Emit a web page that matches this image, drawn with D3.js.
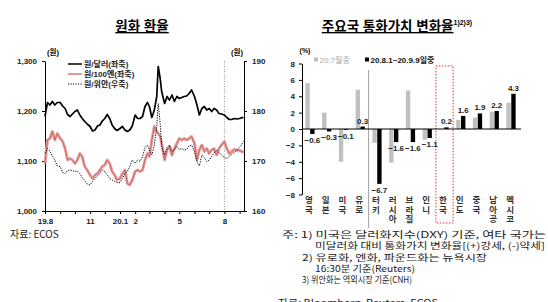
<!DOCTYPE html>
<html><head><meta charset="utf-8">
<script src="https://cdn.jsdelivr.net/npm/d3@7"></script>
<style>
body{margin:0;background:#fff}
svg{display:block}
text{font-family:"Liberation Sans","Noto Sans CJK KR",sans-serif}
.note{font-family:"Noto Sans CJK KR",sans-serif}
</style></head><body>
<script>
// ---- left chart data: won exchange rates ----
let dates = [
  '2019-08-01','2019-08-06','2019-08-11','2019-08-16','2019-08-21','2019-08-26',
  '2019-09-01','2019-09-06','2019-09-11','2019-09-16','2019-09-21','2019-09-26',
  '2019-10-01','2019-10-06','2019-10-11','2019-10-16','2019-10-21','2019-10-26',
  '2019-11-01','2019-11-06','2019-11-11','2019-11-16','2019-11-21','2019-11-26',
  '2019-12-01','2019-12-06','2019-12-11','2019-12-16','2019-12-21','2019-12-26',
  '2020-01-01','2020-01-06','2020-01-11','2020-01-16','2020-01-21','2020-01-26',
  '2020-02-01','2020-02-06','2020-02-11','2020-02-16','2020-02-21','2020-02-26',
  '2020-03-01','2020-03-06','2020-03-11','2020-03-16','2020-03-19','2020-03-23','2020-03-26',
  '2020-04-01','2020-04-06','2020-04-11','2020-04-16','2020-04-21','2020-04-26',
  '2020-05-01','2020-05-06','2020-05-11','2020-05-16','2020-05-21','2020-05-26',
  '2020-06-01','2020-06-06','2020-06-11','2020-06-16','2020-06-21','2020-06-26',
  '2020-07-01','2020-07-06','2020-07-11','2020-07-16','2020-07-21','2020-07-26',
  '2020-08-01','2020-08-06','2020-08-11','2020-08-16','2020-08-21','2020-08-26',
  '2020-09-01','2020-09-06','2020-09-09'
]
let usd = [
  1189,1217,1212,1219,1212,1217, 1217,1210,1205,1193,1189,1194,
  1199,1202,1192,1185,1179,1174, 1169,1160,1162,1170,1172,1180,
  1185,1193,1185,1172,1165,1161, 1165,1169,1162,1159,1162,1170,
  1192,1185,1185,1189,1209,1217, 1209,1187,1202,1229,1289,1265,1239,
  1215,1229,1222,1232,1219,1229, 1225,1227,1229,1230,1235,1242,
  1229,1212,1192,1205,1209,1202, 1205,1199,1205,1202,1195,1194,
  1192,1187,1183,1183,1185,1184, 1185,1187,1186
]
let jpy = [
  1095,1142,1145,1159,1142,1155, 1145,1139,1125,1102,1105,1102,
  1095,1102,1115,1109,1089,1082, 1072,1065,1072,1075,1082,1089,
  1092,1102,1095,1079,1072,1062, 1065,1075,1082,1055,1052,1062,
  1079,1082,1079,1082,1102,1115, 1109,1142,1169,1159,1155,1149,1135,
  1102,1122,1129,1112,1125,1135, 1145,1142,1145,1142,1145,1149,
  1135,1102,1122,1132,1119,1125, 1115,1122,1125,1112,1125,1132,
  1139,1125,1115,1119,1123,1122, 1121,1119,1117
]
let cny = [
  171.5,172.5,172.0,171.0,170.2,169.0, 168.9,167.7,167.5,168.1,168.2,168.1,
  167.9,168.0,167.5,166.7,166.1,165.4, 165.2,165.9,166.5,167.0,167.5,168.2,
  167.9,167.2,166.5,166.2,165.9,165.7, 165.7,166.5,167.5,167.9,168.9,170.2,
  169.5,170.2,169.9,170.9,172.7,173.2, 172.2,171.2,173.2,176.9,181.5,177.5,172.9,
  171.2,172.7,173.2,171.9,172.3,172.9, 172.3,172.5,172.2,172.3,173.0,173.2,
  171.9,169.9,169.0,171.2,170.7,169.9, 170.2,170.9,171.7,172.1,171.7,171.2,
  170.7,170.5,170.9,171.4,171.7,172.1, 172.7,173.4,173.9
]
let leftTicks = [1000, 1100, 1200, 1300]
let rightTicks = [160, 170, 180, 190]
let monthLabels = {'2019-08': '19.8', '2019-11': '11', '2020-01': '20.1', '2020-02': '2', '2020-05': '5', '2020-08': '8'}
let seriesNames = ['원/달러(좌축)', '원/100엔(좌축)', '원/위안(우축)']

// ---- right chart data: currency value change rates ----
let countries = ['영국','일본','미국','유로','터키','러시아','브라질','인니','한국','인도','중국','남아공','멕시코']
let julChange = [5.6, 2.0, -4.0, 4.8, -1.7, -4.1, 4.7, -1.3, 0.0, 1.1, 1.4, 2.1, 3.2]
let augChange = [-0.6, -0.3, -0.1, 0.3, -6.7, -1.6, -1.6, -1.1, 0.2, 1.6, 1.9, 2.2, 4.3]
let barTicks = [-8, -6, -4, -2, 0, 2, 4, 6, 8]
let barSeriesNames = ['20.7월중', '20.8.1~20.9.9일중']

let notes = [
  {t: '주: 1) 미국은 달러화지수(DXY) 기준, 여타 국가는', x: 282, y: 238, w: 264},
  {t: '미달러화 대비 통화가치 변화율[(+)강세, (-)약세]', x: 315, y: 248.5, w: 230},
  {t: '2) 유로화, 엔화, 파운드화는 뉴욕시장', x: 302, y: 261, w: 185},
  {t: '16:30분 기준(Reuters)', x: 315, y: 271.5, w: 100},
  {t: '3) 위안화는 역외시장 기준(CNH)', x: 302, y: 282.5, w: 110},
  {t: '자료: Bloomberg, Reuters, ECOS', x: 278, y: 306, w: 160}
]

let width = 548
let height = 302
let parse = d3.timeParse('%Y-%m-%d')
let dateObjs = dates.map(parse)

let svg = d3.select('body').append('svg')
  .attr('width', width)
  .attr('height', height)

// ================= left chart =================
let xL = d3.scaleTime().domain([parse('2019-08-01'), parse('2020-09-10')]).range([45, 244])
let yL = d3.scaleLinear().domain([1000, 1300]).range([211, 61])
let yR = d3.scaleLinear().domain([160, 190]).range([211, 61])

svg.append('text')
  .attr('x', 142).attr('y', 31)
  .attr('text-anchor', 'middle')
  .attr('font-size', 13.5).attr('font-weight', 'bold')
  .attr('text-decoration', 'underline')
  .text('원화 환율')

// vertical marker at 20.8
svg.append('line')
  .attr('x1', xL(parse('2020-08-01'))).attr('x2', xL(parse('2020-08-01')))
  .attr('y1', 61).attr('y2', 211)
  .attr('stroke', '#777').attr('stroke-width', 0.8)
  .attr('stroke-dasharray', '1,1.5')

let gL = svg.append('g').attr('transform', 'translate(45,0)')
  .call(d3.axisLeft(yL).tickValues(leftTicks).tickSize(3).tickSizeOuter(0).tickPadding(5).tickFormat(d3.format(',')))
let gR = svg.append('g').attr('transform', 'translate(244,0)')
  .call(d3.axisRight(yR).tickValues(rightTicks).tickSize(3).tickSizeOuter(0).tickPadding(5))
let gX = svg.append('g').attr('transform', 'translate(0,211)')
  .call(d3.axisBottom(xL).ticks(d3.timeMonth.every(1)).tickSize(3).tickSizeOuter(0).tickPadding(4)
    .tickFormat(d => monthLabels[d3.timeFormat('%Y-%m')(d)] || ''))

;[gL, gR, gX].forEach(g => {
  g.selectAll('text').attr('font-size', 8).attr('font-weight', 'bold').attr('fill', '#222')
  g.selectAll('line,path').attr('stroke', '#000')
})

svg.append('text').attr('x', 53).attr('y', 55).attr('text-anchor', 'middle')
  .attr('font-size', 7.5).attr('font-weight', 'bold').text('(원)')
svg.append('text').attr('x', 237).attr('y', 55).attr('text-anchor', 'middle')
  .attr('font-size', 7.5).attr('font-weight', 'bold').text('(원)')

let lineUsd = d3.line().x((d, i) => xL(dateObjs[i])).y(d => yL(d))
let lineCny = d3.line().x((d, i) => xL(dateObjs[i])).y(d => yR(d))

svg.append('path').datum(jpy)
  .attr('d', lineUsd).attr('fill', 'none')
  .attr('stroke', '#e7a3a1').attr('stroke-width', 3).attr('stroke-linejoin', 'round')
svg.append('path').datum(jpy)
  .attr('d', lineUsd).attr('fill', 'none')
  .attr('stroke', '#c4585a').attr('stroke-width', 0.8)
svg.append('path').datum(cny)
  .attr('d', lineCny).attr('fill', 'none')
  .attr('stroke', '#000').attr('stroke-width', 1)
  .attr('stroke-dasharray', '1.2,1.3')
svg.append('path').datum(usd)
  .attr('d', lineUsd).attr('fill', 'none')
  .attr('stroke', '#000').attr('stroke-width', 1.7).attr('stroke-linejoin', 'round')

// legend
let legStyles = [
  {stroke: '#000', w: 1.5, dash: null},
  {stroke: '#e09a99', w: 2, dash: null},
  {stroke: '#000', w: 1, dash: '1.2,1.3'}
]
seriesNames.forEach((name, i) => {
  let y = 64 + i * 10
  svg.append('line').attr('x1', 68).attr('x2', 82).attr('y1', y).attr('y2', y)
    .attr('stroke', legStyles[i].stroke).attr('stroke-width', legStyles[i].w)
    .attr('stroke-dasharray', legStyles[i].dash)
  svg.append('text').attr('x', 84).attr('y', y + 3)
    .attr('font-size', 8).attr('font-weight', 'bold').attr('fill', '#222').text(name)
})

// ================= right chart =================
let xB = d3.scaleBand().domain(countries).range([302, 519]).paddingInner(0.45).paddingOuter(0.2)
let xSub = d3.scaleBand().domain([0, 1]).range([0, xB.bandwidth()]).paddingInner(0.1)
let yB = d3.scaleLinear().domain([-8, 8]).range([194.5, 63.5])

let t2 = svg.append('text')
  .attr('x', 397).attr('y', 31)
  .attr('text-anchor', 'middle')
  .attr('font-size', 13.5).attr('font-weight', 'bold')
t2.append('tspan').attr('text-decoration', 'underline').text('주요국 통화가치 변화율')
t2.append('tspan').attr('font-size', 7).attr('dy', -6).text('1)2)3)')

let gB = svg.append('g').attr('transform', 'translate(302,0)')
  .call(d3.axisLeft(yB).tickValues(barTicks).tickSize(3).tickSizeOuter(0).tickPadding(4))
gB.selectAll('text').attr('font-size', 8).attr('font-weight', 'bold').attr('fill', '#222')
gB.selectAll('line,path').attr('stroke', '#000')

svg.append('text').attr('x', 305).attr('y', 53).attr('text-anchor', 'middle')
  .attr('font-size', 7).attr('font-weight', 'bold').text('(%)')

// separator between advanced and emerging
let sepX = xB('터키') - xB.step() * xB.paddingInner() / 2
svg.append('line').attr('x1', sepX).attr('x2', sepX).attr('y1', 70).attr('y2', 228)
  .attr('stroke', '#888').attr('stroke-width', 0.8)

// highlight box on Korea
svg.append('rect')
  .attr('x', xB('한국') - 3.5).attr('y', 66)
  .attr('width', xB.bandwidth() + 8).attr('height', 157)
  .attr('fill', 'none').attr('stroke', '#e0303a').attr('stroke-width', 1)
  .attr('stroke-dasharray', '1.5,1.5')

let barColors = ['#c0c0c0', '#000']
;[julChange, augChange].forEach((vals, s) => {
  svg.append('g').selectAll('rect').data(vals).enter().append('rect')
    .attr('x', (d, i) => xB(countries[i]) + xSub(s))
    .attr('width', xSub.bandwidth())
    .attr('y', d => yB(Math.max(0, d)))
    .attr('height', d => Math.abs(yB(d) - yB(0)))
    .attr('fill', barColors[s])
})

// zero line
svg.append('line').attr('x1', 302).attr('x2', 521).attr('y1', yB(0)).attr('y2', yB(0))
  .attr('stroke', '#000').attr('stroke-width', 1)

svg.append('g').selectAll('text').data(augChange).enter().append('text')
  .attr('x', (d, i) => xB(countries[i]) + xSub(1) + xSub.bandwidth() / 2)
  .attr('y', d => d >= 0 ? yB(d) - 3 : yB(d) + 9)
  .attr('text-anchor', 'middle')
  .attr('font-size', 8).attr('font-weight', 'bold').attr('fill', '#222')
  .text(d => d3.format('.1f')(d))

// vertical category labels
countries.forEach(c => {
  let t = svg.append('text')
    .attr('text-anchor', 'middle')
    .attr('font-size', 8.5).attr('font-weight', 'bold').attr('fill', '#333')
  c.split('').forEach((ch, k) => {
    t.append('tspan').attr('x', xB(c) + xB.bandwidth() / 2 - 1).attr('y', 203 + k * 9.5).text(ch)
  })
})

// legend
barSeriesNames.forEach((name, i) => {
  let x = i === 0 ? 314 : 365
  svg.append('rect').attr('x', x).attr('y', 57.5).attr('width', 4).attr('height', 4).attr('fill', i === 0 ? '#bbb' : '#000')
  svg.append('text').attr('x', x + 5.5).attr('y', 62.5)
    .attr('font-size', 8).attr('font-weight', i === 0 ? 'normal' : 'bold')
    .attr('fill', i === 0 ? '#aaa' : '#111').text(name)
})

// ================= notes =================
svg.append('text').attr('class', 'note').attr('x', 10).attr('y', 238)
  .attr('font-size', 10).attr('fill', '#222').text('자료: ECOS')

svg.append('g').selectAll('text').data(notes).enter().append('text')
  .attr('class', 'note')
  .attr('x', d => d.x).attr('y', d => d.y)
  .attr('font-size', 9).attr('fill', '#222')
  .attr('textLength', d => d.w).attr('lengthAdjust', 'spacingAndGlyphs')
  .text(d => d.t)
</script></body></html>
